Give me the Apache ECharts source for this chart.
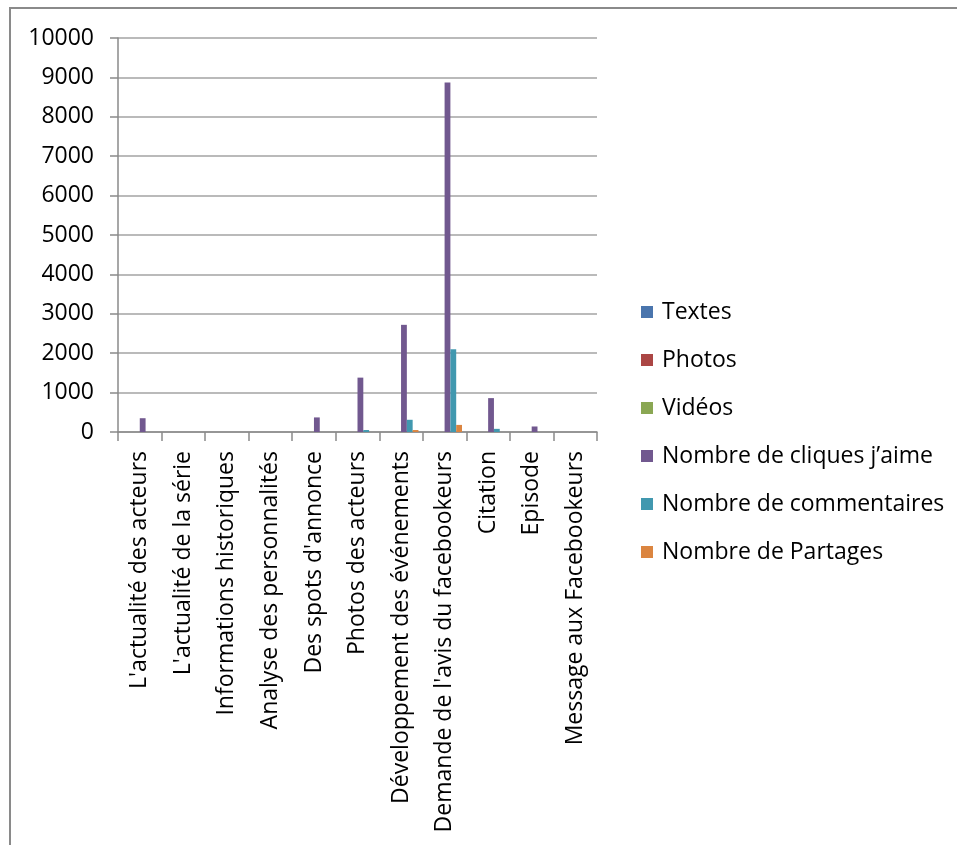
<!DOCTYPE html>
<html>
<head>
<meta charset="utf-8">
<script src="https://cdn.jsdelivr.net/npm/echarts@6/dist/echarts.min.js"></script>
<style>
  html, body { margin: 0; padding: 0; background: #fff; }
  #chart { width: 958px; height: 845px; }
</style>
</head>
<body>
<div id="chart"></div>
<script>
// Types de publications sur la page Facebook
const categories = [
  "L'actualité des acteurs",
  "L'actualité de la série",
  "Informations historiques",
  "Analyse des personnalités",
  "Des spots d'annonce",
  "Photos des acteurs",
  "Développement des événements",
  "Demande de l'avis du facebookeurs",
  "Citation",
  "Episode",
  "Message aux Facebookeurs"
];

const seriesNames = [
  "Textes",
  "Photos",
  "Vidéos",
  "Nombre de cliques j’aime",
  "Nombre de commentaires",
  "Nombre de Partages"
];

const textes       = [0, 0, 0, 0, 0, 0, 0, 0, 0, 0, 0];
const photos       = [0, 0, 0, 0, 0, 0, 0, 0, 0, 0, 0];
const videos       = [0, 0, 0, 0, 0, 0, 0, 0, 0, 0, 0];
const jaime        = [350, 0, 0, 0, 370, 1380, 2720, 8870, 860, 140, 0];
const commentaires = [0, 0, 0, 0, 0, 50, 310, 2100, 80, 0, 0];
const partages     = [0, 0, 0, 0, 0, 0, 50, 180, 0, 0, 0];

const yTicks = { min: 0, max: 10000, interval: 1000 };

const colors = ['#4a75ad', '#ab4644', '#8aa753', '#71588f', '#4198af', '#db8540'];
const FONT = 'Open Sans';
const FONT_SIZE = 23;

const values = [textes, photos, videos, jaime, commentaires, partages];

const chart = echarts.init(document.getElementById('chart'), null, { renderer: 'canvas' });

chart.setOption({
  animation: false,
  backgroundColor: '#ffffff',
  color: colors,
  textStyle: { fontFamily: FONT },
  graphic: [{
    type: 'polyline',
    shape: { points: [[10, 845], [10, 8], [957, 8]] },
    style: { stroke: '#8a8a8a', lineWidth: 2, fill: null },
    silent: true
  }],
  grid: { left: 118, right: 361, top: 38, bottom: 413, containLabel: false },
  legend: {
    orient: 'vertical',
    left: 636,
    top: 295,
    icon: 'rect',
    itemWidth: 12,
    itemHeight: 12,
    itemGap: 24,
    textStyle: {
      fontFamily: FONT,
      fontSize: FONT_SIZE,
      lineHeight: 24,
      color: '#000',
      padding: [0, 0, 0, 4]
    },
    data: seriesNames
  },
  xAxis: {
    type: 'category',
    data: categories,
    boundaryGap: true,
    axisLine: { show: true, lineStyle: { color: '#8a8a8a', width: 1.5 } },
    axisTick: { show: true, alignWithLabel: false, length: 9, lineStyle: { color: '#8a8a8a', width: 1.5 } },
    axisLabel: {
      interval: 0,
      rotate: 90,
      margin: 19,
      fontFamily: FONT,
      fontSize: FONT_SIZE,
      color: '#000'
    },
    splitLine: { show: false }
  },
  yAxis: {
    type: 'value',
    min: yTicks.min,
    max: yTicks.max,
    interval: yTicks.interval,
    axisLine: { show: true, lineStyle: { color: '#8a8a8a', width: 1.5 } },
    axisTick: { show: true, length: 8, lineStyle: { color: '#8a8a8a', width: 1.5 } },
    axisLabel: {
      margin: 24,
      fontFamily: FONT,
      fontSize: FONT_SIZE,
      color: '#000',
      formatter: (v) => String(v)
    },
    splitLine: { show: true, lineStyle: { color: '#a3a3a3', width: 1.5 } }
  },
  series: seriesNames.map((name, i) => ({
    name: name,
    type: 'bar',
    data: values[i],
    barGap: '0%',
    barCategoryGap: '20%',
    itemStyle: { color: colors[i] }
  }))
});
</script>
</body>
</html>
